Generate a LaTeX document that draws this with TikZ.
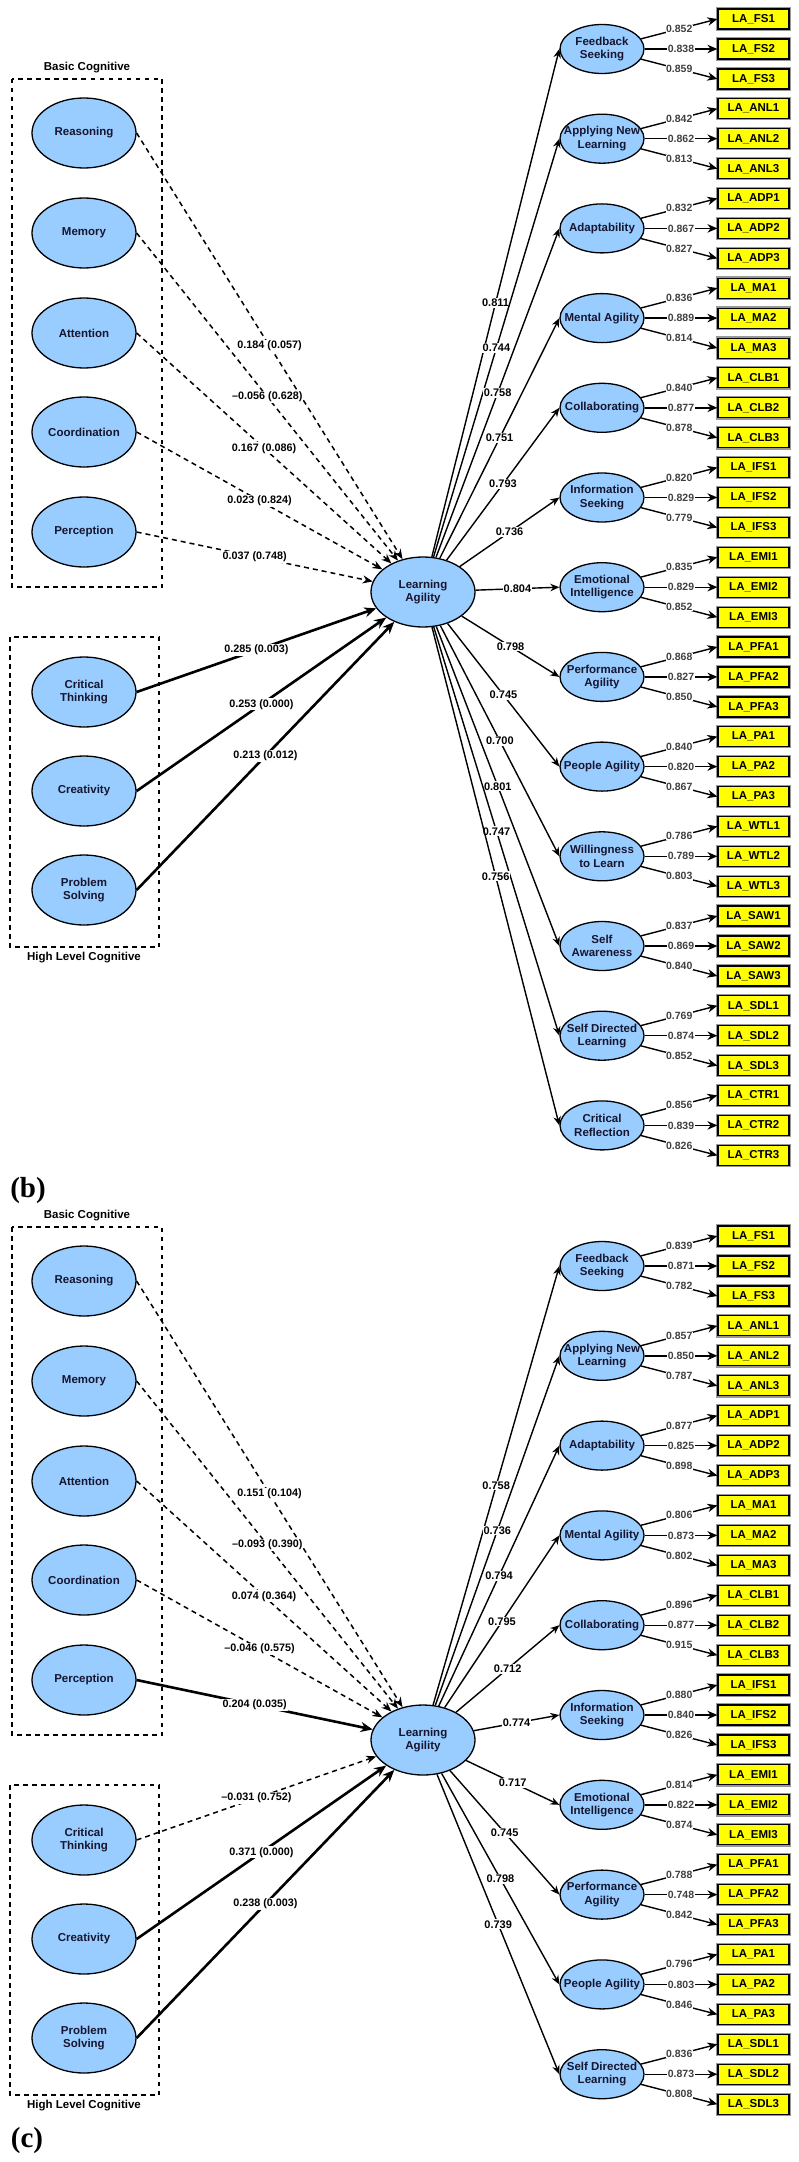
\documentclass[tikz,border=0pt]{standalone}
\usepackage{fontspec}
\setmainfont{Liberation Sans}
\newfontfamily\panelfont{Liberation Serif}
\usetikzlibrary{shapes.geometric,arrows.meta}
\definecolor{ellblue}{RGB}{153,204,255}
\definecolor{boxyel}{RGB}{255,255,0}
\definecolor{etxt}{RGB}{22,22,48}
% #1 panel suffix, #2 key, #3 text, #4 y, #5 loading, #6-#8 indicator loadings, #9 LA node
\newcommand\mkconstruct[9]{%
  \node[rell, label={[etext]center:{#3}}] (#2#1) at (602,#4) {};
  \draw[load] (#9) -- node[nlbl]{#5} (#2#1.west);
  \node[ind] (#2#1a) at (753.5,#4-30) {LA\_#21};
  \node[ind] (#2#1b) at (753.5,#4) {LA\_#22};
  \node[ind] (#2#1c) at (753.5,#4+30) {LA\_#23};
  \draw[iarr] (#2#1) -- node[ilbl]{#6} (#2#1a.west);
  \draw[iarr] (#2#1) -- node[ilbl]{#7} (#2#1b.west);
  \draw[iarr] (#2#1) -- node[ilbl]{#8} (#2#1c.west);
}
\newcommand\mkleft[4]{\node[lell, label={[etext]center:{#3}}] (#2#1) at (84,#4) {};}
\newcommand\mkpath[4]{\draw[#1] (#2.east) -- node[plbl]{#4} (#3);}
\begin{document}
\begin{tikzpicture}[x=1pt,y=-1pt,
  lell/.style={ellipse, draw=black, line width=1.3pt, fill=ellblue, minimum width=104pt, minimum height=70pt, inner sep=0pt},
  rell/.style={ellipse, draw=black, line width=1.3pt, fill=ellblue, minimum width=84pt, minimum height=49pt, inner sep=0pt},
  etext/.style={font=\bfseries\fontsize{11.5}{13.3}\selectfont, text=etxt, align=center, inner sep=0pt},
  ind/.style={rectangle, draw=black, line width=1.2pt, fill=boxyel, minimum width=71pt, minimum height=20pt, inner sep=0pt, font=\bfseries\fontsize{11.5}{13}\selectfont, preaction={draw=black!40, line width=3.4pt}},
  load/.style={line width=1.4pt, -{Stealth[length=9pt,width=7.5pt]}},
  iarr/.style={line width=1.4pt, -{Stealth[length=10pt,width=8.5pt]}},
  nsig/.style={line width=1.5pt, dash pattern=on 5pt off 4pt, -{Stealth[length=10pt,width=8pt]}},
  sig/.style={line width=2.6pt, -{Stealth[length=12pt,width=10pt]}},
  plbl/.style={font=\bfseries\fontsize{10.8}{12}\selectfont, fill=white, inner sep=1pt},
  nlbl/.style={font=\bfseries\fontsize{11}{12}\selectfont, fill=white, inner sep=1pt},
  ilbl/.style={font=\bfseries\fontsize{10.5}{12}\selectfont, text=black!75, fill=white, inner sep=0.5pt},
  grp/.style={draw=black, line width=1.3pt, dash pattern=on 4.5pt off 4.5pt},
  glbl/.style={font=\bfseries\fontsize{11.5}{13}\selectfont},
  plabel/.style={font=\panelfont\bfseries\fontsize{29}{31}\selectfont, inner sep=0pt}
]
\fill[white] (0,0) rectangle (799,2162);
\useasboundingbox (0,0) rectangle (799,2162);

%%%%%%%%%%%%%%%% upper panel
\draw[grp] (12,79) rectangle (162,587);
\node[glbl] (gb1) at (87,68) {Basic Cognitive};
\draw[grp] (10,637) rectangle (159,947);
\node[glbl] (gh1) at (84,958) {High Level Cognitive};

\mkleft{b}{Rea}{Reasoning}{133}
\mkleft{b}{Mem}{Memory}{233}
\mkleft{b}{Att}{Attention}{333}
\mkleft{b}{Coo}{Coordination}{432}
\mkleft{b}{Per}{Perception}{532}
\mkleft{b}{Cri}{Critical\\Thinking}{692}
\mkleft{b}{Cre}{Creativity}{791}
\mkleft{b}{Pro}{Problem\\Solving}{890}

\node[lell, label={[etext]center:{Learning\\Agility}}] (LAb) at (423,592) {};

\mkpath{nsig}{Reab}{LAb}{0.184 (0.057)}
\mkpath{nsig}{Memb}{LAb}{–0.056 (0.628)}
\mkpath{nsig}{Attb}{LAb}{0.167 (0.086)}
\mkpath{nsig}{Coob}{LAb}{0.023 (0.824)}
\mkpath{nsig}{Perb}{LAb}{0.037 (0.748)}
\mkpath{sig}{Crib}{LAb}{0.285 (0.003)}
\mkpath{sig}{Creb}{LAb}{0.253 (0.000)}
\mkpath{sig}{Prob}{LAb}{0.213 (0.012)}

\mkconstruct{b}{FS}{Feedback\\Seeking}{49}{0.811}{0.852}{0.838}{0.859}{LAb}
\mkconstruct{b}{ANL}{Applying New\\Learning}{138.7}{0.744}{0.842}{0.862}{0.813}{LAb}
\mkconstruct{b}{ADP}{Adaptability}{228.4}{0.758}{0.832}{0.867}{0.827}{LAb}
\mkconstruct{b}{MA}{Mental Agility}{318.1}{0.751}{0.836}{0.889}{0.814}{LAb}
\mkconstruct{b}{CLB}{Collaborating}{407.8}{0.793}{0.840}{0.877}{0.878}{LAb}
\mkconstruct{b}{IFS}{Information\\Seeking}{497.5}{0.736}{0.820}{0.829}{0.779}{LAb}
\mkconstruct{b}{EMI}{Emotional\\Intelligence}{587.2}{0.804}{0.835}{0.829}{0.852}{LAb}
\mkconstruct{b}{PFA}{Performance\\Agility}{676.9}{0.798}{0.868}{0.827}{0.850}{LAb}
\mkconstruct{b}{PA}{People Agility}{766.6}{0.745}{0.840}{0.820}{0.867}{LAb}
\mkconstruct{b}{WTL}{Willingness\\to Learn}{856.3}{0.700}{0.786}{0.789}{0.803}{LAb}
\mkconstruct{b}{SAW}{Self\\Awareness}{946}{0.801}{0.837}{0.869}{0.840}{LAb}
\mkconstruct{b}{SDL}{Self Directed\\Learning}{1035.7}{0.747}{0.769}{0.874}{0.852}{LAb}
\mkconstruct{b}{CTR}{Critical\\Reflection}{1125.4}{0.756}{0.856}{0.839}{0.826}{LAb}

\node[plabel] (lblb) at (28,1191) {(b)};

%%%%%%%%%%%%%%%% lower panel
\draw[grp] (12,1227) rectangle (162,1735);
\node[glbl] (gb2) at (87,1216) {Basic Cognitive};
\draw[grp] (10,1785) rectangle (159,2095);
\node[glbl] (gh2) at (84,2106) {High Level Cognitive};

\mkleft{c}{Rea}{Reasoning}{1281}
\mkleft{c}{Mem}{Memory}{1381}
\mkleft{c}{Att}{Attention}{1481}
\mkleft{c}{Coo}{Coordination}{1580}
\mkleft{c}{Per}{Perception}{1680}
\mkleft{c}{Cri}{Critical\\Thinking}{1840}
\mkleft{c}{Cre}{Creativity}{1939}
\mkleft{c}{Pro}{Problem\\Solving}{2038}

\node[lell, label={[etext]center:{Learning\\Agility}}] (LAc) at (423,1740) {};

\mkpath{nsig}{Reac}{LAc}{0.151 (0.104)}
\mkpath{nsig}{Memc}{LAc}{–0.093 (0.390)}
\mkpath{nsig}{Attc}{LAc}{0.074 (0.364)}
\mkpath{nsig}{Cooc}{LAc}{–0.046 (0.575)}
\mkpath{sig}{Perc}{LAc}{0.204 (0.035)}
\mkpath{nsig}{Cric}{LAc}{–0.031 (0.752)}
\mkpath{sig}{Crec}{LAc}{0.371 (0.000)}
\mkpath{sig}{Proc}{LAc}{0.238 (0.003)}

\mkconstruct{c}{FS}{Feedback\\Seeking}{1266}{0.758}{0.839}{0.871}{0.782}{LAc}
\mkconstruct{c}{ANL}{Applying New\\Learning}{1355.8}{0.736}{0.857}{0.850}{0.787}{LAc}
\mkconstruct{c}{ADP}{Adaptability}{1445.6}{0.794}{0.877}{0.825}{0.898}{LAc}
\mkconstruct{c}{MA}{Mental Agility}{1535.4}{0.795}{0.806}{0.873}{0.802}{LAc}
\mkconstruct{c}{CLB}{Collaborating}{1625.2}{0.712}{0.896}{0.877}{0.915}{LAc}
\mkconstruct{c}{IFS}{Information\\Seeking}{1715}{0.774}{0.880}{0.840}{0.826}{LAc}
\mkconstruct{c}{EMI}{Emotional\\Intelligence}{1804.8}{0.717}{0.814}{0.822}{0.874}{LAc}
\mkconstruct{c}{PFA}{Performance\\Agility}{1894.6}{0.745}{0.788}{0.748}{0.842}{LAc}
\mkconstruct{c}{PA}{People Agility}{1984.4}{0.798}{0.796}{0.803}{0.846}{LAc}
\mkconstruct{c}{SDL}{Self Directed\\Learning}{2074.2}{0.739}{0.836}{0.873}{0.808}{LAc}

\node[plabel] (lblc) at (27,2140) {(c)};
\end{tikzpicture}
\end{document}
